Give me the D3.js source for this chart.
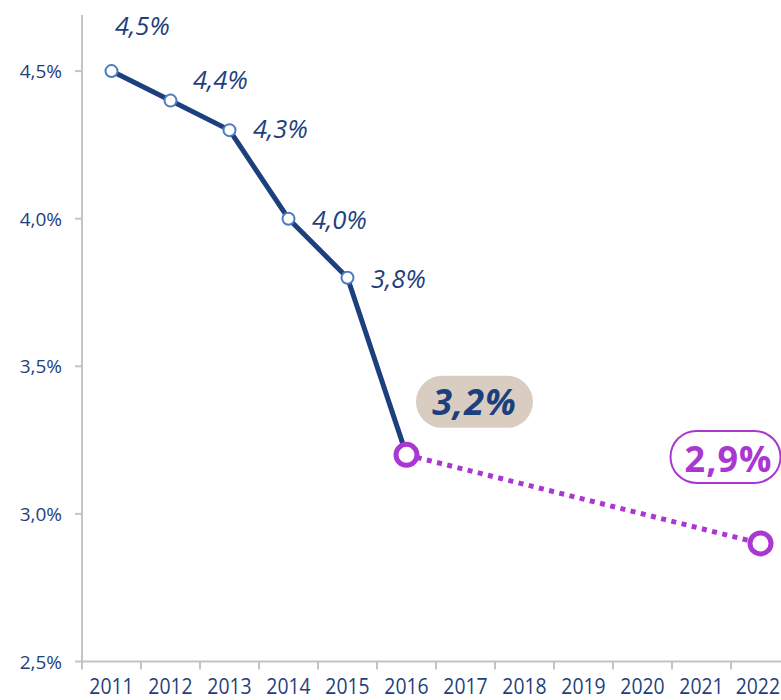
<!DOCTYPE html>
<html>
<head>
<meta charset="utf-8">
<script src="https://cdn.jsdelivr.net/npm/d3@7"></script>
<style>
  html, body { margin: 0; padding: 0; background: #ffffff; }
  svg { display: block; }
</style>
</head>
<body>
<svg id="chart" width="781" height="700"></svg>
<script>
// Years on the horizontal axis
const years = [2011, 2012, 2013, 2014, 2015, 2016, 2017, 2018, 2019, 2020, 2021, 2022];
// Observed rate, 2011–2016
const actualYears = [2011, 2012, 2013, 2014, 2015, 2016];
const actualValues = [4.5, 4.4, 4.3, 4.0, 3.8, 3.2];
// Target path, 2016 → 2022
const targetYears = [2016, 2022];
const targetValues = [3.2, 2.9];
// Y axis ticks
const yTicks = [2.5, 3.0, 3.5, 4.0, 4.5];

const fmt = v => d3.format(".1f")(v).replace(".", ",") + "%";

const W = 781;
const NAVY = "#1c3f7e";
const MARKER = "#4a7cbf";
const PURPLE = "#ab37d3";
const BEIGE = "#d9cdc1";
const AXIS = "#c4c4c4";
const TEXT = "#1f3f7c";

const svg = d3.select("#chart");

const x = d3.scaleBand().domain(years).range([82, 790]).padding(0);
const y = d3.scaleLinear().domain([2.5, 4.69]).range([661.5, 15]);
const cx = yr => x(yr) + x.bandwidth() / 2;

// Axes
const axisG = svg.append("g");
axisG.append("line")
  .attr("x1", 82).attr("x2", 82)
  .attr("y1", y(4.69)).attr("y2", y(2.5))
  .attr("stroke", AXIS).attr("stroke-width", 2);
axisG.append("line")
  .attr("x1", 82).attr("x2", W)
  .attr("y1", y(2.5)).attr("y2", y(2.5))
  .attr("stroke", AXIS).attr("stroke-width", 2);

// Y ticks and labels
axisG.selectAll(".ytick").data(yTicks).join("line")
  .attr("x1", 75).attr("x2", 82)
  .attr("y1", d => y(d)).attr("y2", d => y(d))
  .attr("stroke", AXIS).attr("stroke-width", 2);
axisG.selectAll(".ylab").data(yTicks).join("text")
  .attr("x", 62).attr("y", d => y(d) + 7)
  .attr("text-anchor", "end")
  .attr("font-family", "'Open Sans', sans-serif")
  .attr("font-size", 19)
  .attr("fill", TEXT)
  .text(fmt);

// X ticks at band boundaries and year labels
axisG.selectAll(".xtick").data(years).join("line")
  .attr("x1", d => x(d)).attr("x2", d => x(d))
  .attr("y1", y(2.5)).attr("y2", y(2.5) + 8)
  .attr("stroke", AXIS).attr("stroke-width", 2);
const xLabels = axisG.selectAll(".xlab").data(years).join("text")
  .attr("text-anchor", "middle")
  .attr("font-family", "'Open Sans', sans-serif")
  .attr("font-size", 22)
  .attr("fill", TEXT)
  .text(d => d);
// keep the last year label inside the canvas
xLabels.attr("transform", function (d) {
  const half = this.getComputedTextLength() * 0.88 / 2;
  const px = Math.min(cx(d), W - half - 1);
  return `translate(${px},693.5) scale(0.88,1)`;
});

// Target dotted line
const targetPts = targetYears.map((yr, i) => [cx(yr), y(targetValues[i])]);
svg.append("path")
  .attr("d", d3.line()(targetPts))
  .attr("fill", "none")
  .attr("stroke", PURPLE)
  .attr("stroke-width", 5)
  .attr("stroke-dasharray", "5,5.5");

// Observed line
const actualPts = actualYears.map((yr, i) => [cx(yr), y(actualValues[i])]);
svg.append("path")
  .attr("d", d3.line()(actualPts))
  .attr("fill", "none")
  .attr("stroke", NAVY)
  .attr("stroke-width", 5)
  .attr("stroke-linejoin", "round");

// Small markers for observed years (the last one is drawn as a highlight)
svg.selectAll(".pt").data(actualYears.slice(0, -1)).join("circle")
  .attr("cx", d => cx(d))
  .attr("cy", (d, i) => y(actualValues[i]))
  .attr("r", 6)
  .attr("fill", "#ffffff")
  .attr("stroke", MARKER)
  .attr("stroke-width", 2);

// Highlight markers at 2016 and 2022
svg.selectAll(".hl").data(targetYears).join("circle")
  .attr("cx", d => cx(d))
  .attr("cy", (d, i) => y(targetValues[i]))
  .attr("r", 10.5)
  .attr("fill", "#ffffff")
  .attr("stroke", PURPLE)
  .attr("stroke-width", 5);

// Value labels for observed years
const labelOffsets = [[3.5, -36], [22.5, -12], [23.5, 8], [23.5, 10], [23.5, 10]];
svg.selectAll(".vlab").data(actualYears.slice(0, -1)).join("text")
  .attr("x", (d, i) => cx(d) + labelOffsets[i][0])
  .attr("y", (d, i) => y(actualValues[i]) + labelOffsets[i][1])
  .attr("font-family", "'Open Sans', sans-serif")
  .attr("font-style", "italic")
  .attr("font-size", 25.5)
  .attr("fill", TEXT)
  .text((d, i) => fmt(actualValues[i]));

// 2016 callout
const last = actualValues.length - 1;
const c1x = cx(actualYears[last]) + 68, c1y = y(actualValues[last]) - 53;
svg.append("rect")
  .attr("x", c1x - 58.5).attr("y", c1y - 26)
  .attr("width", 117).attr("height", 52)
  .attr("rx", 26)
  .attr("fill", BEIGE);
svg.append("text")
  .attr("x", c1x).attr("y", c1y + 13.5)
  .attr("text-anchor", "middle")
  .attr("font-family", "'Open Sans', sans-serif")
  .attr("font-style", "italic")
  .attr("font-weight", "bold")
  .attr("font-size", 36)
  .attr("letter-spacing", 1)
  .attr("fill", NAVY)
  .text(fmt(actualValues[last]));

// 2022 callout
const t = targetValues.length - 1;
const c2x = cx(targetYears[t]) - 35, c2y = y(targetValues[t]) - 86.5;
svg.append("rect")
  .attr("x", c2x - 55).attr("y", c2y - 26)
  .attr("width", 110).attr("height", 52)
  .attr("rx", 26)
  .attr("fill", "#ffffff")
  .attr("stroke", PURPLE)
  .attr("stroke-width", 2);
svg.append("text")
  .attr("x", c2x + 3).attr("y", c2y + 15)
  .attr("text-anchor", "middle")
  .attr("font-family", "'Open Sans', sans-serif")
  .attr("font-weight", "bold")
  .attr("font-size", 36)
  .attr("letter-spacing", 1)
  .attr("fill", PURPLE)
  .text(fmt(targetValues[t]));
</script>
</body>
</html>
